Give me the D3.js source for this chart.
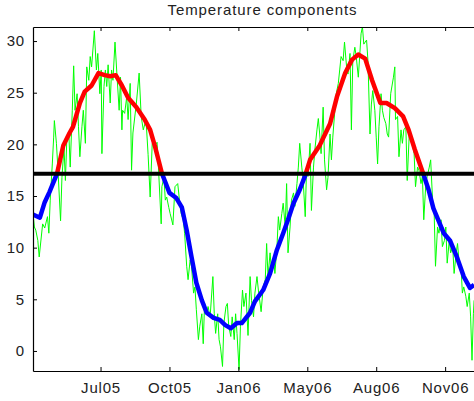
<!DOCTYPE html>
<html>
<head>
<meta charset="utf-8">
<script src="https://cdn.jsdelivr.net/npm/d3@7"></script>
<style>
body { margin: 0; background: #fff; overflow: hidden; }
svg text { font-family: "Liberation Sans", Arial, sans-serif; fill: #222; }
</style>
</head>
<body>
<div id="chart"></div>
<script>
// day 0 of the series
const startDay = "2005-03-31";
const endDay = "2007-01-26";

// x ticks (every 100 days, like datetick does)
const xTickDays = ["2005-07-07", "2005-10-15", "2006-01-23", "2006-05-03", "2006-08-11", "2006-11-19"];
const yTicks = [0, 5, 10, 15, 20, 25, 30];

const meanTemp = 17.15;

// smoothed temperature (days since startDay)
const smoothDays = [0, 10, 17, 24, 35, 44, 53, 58, 68, 75, 85, 95, 104, 112, 120, 129, 138, 150, 162, 170,
    177, 187, 198, 208, 216, 223, 230, 237, 245, 252, 262, 271, 279, 287, 296, 303, 315, 322, 334, 344,
    354, 363, 370, 378, 387, 395, 402, 416, 431, 441, 453, 463, 472, 482, 492, 504, 513, 525, 537, 545,
    554, 566, 574, 581, 596, 605, 615, 625, 634, 640];
const smoothTemps = [13.2, 12.9, 14.4, 15.4, 17.2, 19.9, 21.1, 21.7, 24.0, 25.1, 25.7, 26.9, 26.7, 26.6, 26.7, 25.7, 24.5, 23.6, 22.4, 21.4,
    19.8, 17.2, 15.3, 14.8, 13.9, 11.7, 9.1, 6.6, 4.9, 3.7, 3.2, 3.0, 2.5, 2.2, 2.7, 2.7, 3.7, 4.8, 5.9, 7.5,
    9.8, 11.4, 12.7, 14.3, 15.6, 17.0, 18.5, 19.9, 22.0, 24.6, 26.9, 28.2, 28.7, 28.3, 26.2, 24.0, 24.0, 23.5, 22.7, 21.4,
    19.5, 17.2, 15.6, 13.8, 11.4, 10.7, 9.1, 7.2, 6.1, 6.4];

// daily temperature (days since startDay)
const dailyDays = [0, 2, 4, 7, 9, 14, 17, 21, 23, 25, 28, 30, 31, 34, 36, 40, 42, 45, 47, 49,
    52, 54, 57, 59, 61, 64, 66, 68, 71, 73, 76, 78, 81, 83, 85, 88, 89, 92, 94, 97,
    99, 100, 103, 105, 107, 109, 112, 114, 116, 119, 122, 125, 127, 129, 130, 133, 136, 138, 141, 143,
    145, 150, 154, 157, 160, 164, 167, 170, 173, 175, 177, 180, 182, 186, 187, 190, 192, 194, 197, 199,
    203, 206, 210, 213, 215, 218, 220, 223, 225, 228, 230, 233, 235, 237, 240, 242, 245, 247, 249, 252,
    254, 257, 261, 263, 265, 268, 270, 272, 275, 277, 280, 282, 284, 287, 289, 292, 294, 296, 299, 301,
    304, 306, 309, 312, 315, 317, 320, 322, 325, 327, 331, 334, 337, 339, 341, 344, 346, 349, 351, 354,
    356, 358, 361, 363, 366, 368, 370, 373, 375, 378, 380, 383, 385, 387, 390, 392, 395, 397, 399, 402,
    404, 407, 409, 412, 414, 416, 418, 421, 423, 426, 428, 431, 433, 435, 438, 440, 443, 445, 447, 450,
    452, 455, 457, 460, 462, 464, 467, 469, 472, 474, 476, 478, 480, 484, 486, 489, 491, 493, 496, 498,
    500, 502, 505, 507, 509, 512, 514, 516, 519, 523, 525, 526, 529, 531, 534, 536, 538, 541, 543, 546,
    548, 551, 553, 555, 558, 560, 563, 565, 567, 570, 572, 575, 577, 580, 582, 584, 587, 589, 592, 594,
    597, 599, 601, 604, 606, 609, 611, 614, 616, 618, 621, 623, 625, 628, 630, 633, 635, 637, 639, 640];
const dailyTemps = [13.3, 12.0, 11.7, 10.7, 9.1, 12.3, 11.9, 13.0, 11.4, 14.6, 18.1, 20.7, 22.3, 20.1, 17.8, 12.6, 16.8, 19.7, 16.5, 20.4,
    21.0, 17.8, 23.3, 27.6, 23.3, 24.9, 21.7, 18.8, 21.7, 23.3, 20.1, 27.5, 26.2, 28.5, 27.5, 30.1, 31.0, 27.2, 28.8, 24.9,
    27.2, 19.1, 25.6, 27.2, 25.6, 27.7, 24.0, 27.2, 26.2, 29.9, 26.5, 23.3, 26.5, 21.4, 23.3, 23.0, 24.6, 22.4, 25.9, 17.5,
    21.1, 24.0, 26.9, 22.7, 21.4, 22.4, 19.0, 14.9, 20.1, 20.2, 19.9, 20.2, 17.8, 12.3, 15.9, 16.8, 14.6, 14.9, 13.9, 13.3,
    12.2, 15.9, 16.2, 14.3, 13.3, 12.7, 11.4, 8.2, 6.9, 8.8, 8.2, 5.6, 6.2, 4.0, 1.1, 2.4, 3.6, 0.7, 4.6, 3.6,
    4.3, 3.3, 7.2, 3.6, 1.7, 3.6, 1.1, 0.4, -1.5, 2.7, 4.3, 4.6, 2.4, 1.4, 3.3, 1.1, 3.6, 1.7, -1.8, 2.4,
    5.9, 4.3, 5.6, 1.5, 7.2, 4.9, 3.3, 5.6, 7.2, 5.9, 3.8, 6.2, 6.9, 10.4, 7.2, 9.5, 7.8, 9.1, 7.5, 10.1,
    13.0, 11.7, 13.3, 14.3, 12.0, 16.2, 9.5, 12.0, 14.6, 15.3, 14.0, 16.2, 17.8, 20.1, 17.8, 16.5, 13.0, 17.8, 16.9, 20.1,
    13.6, 17.8, 19.5, 21.4, 22.5, 21.0, 19.1, 23.6, 18.5, 15.6, 16.8, 21.0, 18.5, 20.7, 23.3, 24.9, 25.9, 27.2, 28.5, 28.1,
    29.9, 27.5, 26.8, 28.8, 21.4, 28.1, 29.4, 28.5, 26.5, 28.5, 30.7, 31.4, 29.7, 30.1, 28.1, 21.0, 23.9, 25.2, 23.3, 20.7,
    18.1, 21.7, 24.9, 23.3, 22.6, 22.0, 21.0, 20.7, 24.9, 26.5, 27.5, 22.4, 22.7, 18.8, 21.4, 20.1, 21.4, 21.7, 16.5, 21.1,
    20.4, 19.8, 19.1, 15.9, 17.8, 17.5, 16.2, 16.9, 12.7, 16.2, 16.9, 17.8, 18.5, 14.3, 13.6, 8.2, 12.0, 11.4, 12.7, 10.1,
    10.7, 12.0, 8.5, 10.7, 9.5, 10.1, 7.5, 9.5, 10.4, 8.8, 8.2, 5.6, 6.2, 5.3, 4.3, 5.6, 3.3, -0.9, 3.6, 4.9];

const margin = { top: 27, right: 0, bottom: 30, left: 33 },
    width = 492 - margin.left,
    height = 371 - margin.top;

const parseDay = d3.timeParse("%Y-%m-%d");
const start = parseDay(startDay);
function dayToDate(d) { return d3.timeDay.offset(start, d); }

const svg = d3.select("#chart")
    .append("svg")
    .attr("width", 474)
    .attr("height", 401)
    .append("g")
    .attr("transform", `translate(${margin.left}, ${margin.top})`);

const x = d3.scaleTime()
    .domain([start, parseDay(endDay)])
    .range([0, width]);

const y = d3.scaleLinear()
    .domain([-1.94, 31.36])
    .range([height, 0]);

svg.append("defs").append("clipPath")
    .attr("id", "plotclip")
    .append("rect")
    .attr("width", width)
    .attr("height", height);

// red above the mean, blue below it
const grad = svg.select("defs").append("linearGradient")
    .attr("id", "abovebelow")
    .attr("gradientUnits", "userSpaceOnUse")
    .attr("x1", 0).attr("x2", 0)
    .attr("y1", 0).attr("y2", height);
const cut = y(meanTemp) / height;
grad.append("stop").attr("offset", cut).attr("stop-color", "#ff0000");
grad.append("stop").attr("offset", cut).attr("stop-color", "#0000ff");

const plot = svg.append("g").attr("clip-path", "url(#plotclip)");

const daily = dailyDays.map((d, i) => ({ date: dayToDate(d), t: dailyTemps[i] }));
const smooth = smoothDays.map((d, i) => ({ date: dayToDate(d), t: smoothTemps[i] }));

const line = d3.line()
    .x(d => x(d.date))
    .y(d => y(d.t));

plot.append("path")
    .datum(daily)
    .attr("fill", "none")
    .attr("stroke", "#00ff00")
    .attr("stroke-width", 1)
    .attr("d", line);

plot.append("path")
    .datum(smooth)
    .attr("fill", "none")
    .attr("stroke", "url(#abovebelow)")
    .attr("stroke-width", 4.5)
    .attr("stroke-linejoin", "round")
    .attr("d", line);

plot.append("line")
    .attr("x1", 0)
    .attr("x2", width)
    .attr("y1", y(meanTemp))
    .attr("y2", y(meanTemp))
    .attr("stroke", "#000")
    .attr("stroke-width", 4);

// axes, ticks pointing inwards
const xTicks = xTickDays.map(parseDay);

const xAxis = svg.append("g")
    .attr("transform", `translate(0, ${height})`)
    .call(d3.axisBottom(x).tickValues(xTicks).tickFormat(d3.timeFormat("%b%y"))
        .tickSizeInner(-4).tickSizeOuter(0).tickPadding(11));

const xTop = svg.append("g")
    .call(d3.axisTop(x).tickValues(xTicks).tickFormat("")
        .tickSizeInner(-4).tickSizeOuter(0));

const yAxis = svg.append("g")
    .call(d3.axisLeft(y).tickValues(yTicks)
        .tickSizeInner(-4).tickSizeOuter(0).tickPadding(8));

svg.selectAll(".domain").attr("stroke", "#000").attr("stroke-width", 1.2);
svg.selectAll(".tick line").attr("stroke", "#000");
svg.selectAll(".tick text")
    .style("font-size", "15px")
    .style("letter-spacing", "0.8px")
    .attr("fill", "#222");

svg.append("text")
    .attr("x", width / 2)
    .attr("y", -12)
    .attr("text-anchor", "middle")
    .style("font-size", "15px")
    .style("letter-spacing", "0.9px")
    .text("Temperature components");
</script>
</body>
</html>
